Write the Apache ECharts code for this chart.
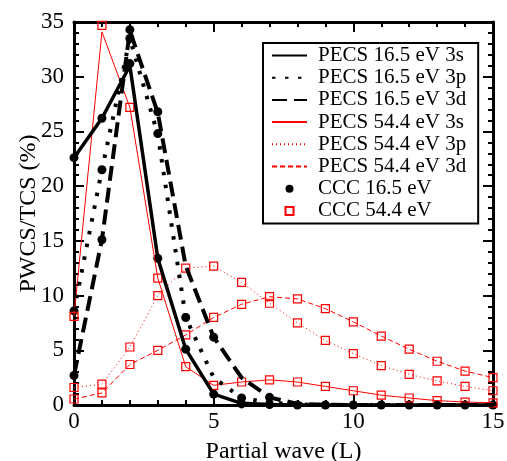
<!DOCTYPE html>
<html>
<head>
<meta charset="utf-8">
<script src="https://cdn.jsdelivr.net/npm/echarts@6/dist/echarts.min.js"></script>
<style>
  html, body { margin: 0; padding: 0; background: #fff; }
  #main { width: 507px; height: 461px; }
</style>
</head>
<body>
<div id="main"></div>
<script>
// partial waves L = 0..15
var waves = [0, 1, 2, 3, 4, 5, 6, 7, 8, 9, 10, 11, 12, 13, 14, 15];

// PECS 16.5 eV
var pecs16s = [22.6, 26.2, 31.0, 13.4, 5.1, 1.0, 0.15, 0.05, 0, 0, 0, 0, 0, 0, 0, 0];
var pecs16p = [8.6, 21.5, 33.5, 24.7, 8.0, 2.5, 0.65, 0.2, 0.05, 0, 0, 0, 0, 0, 0, 0];
var pecs16d = [2.7, 15.1, 34.2, 26.7, 12.7, 6.2, 2.5, 0.7, 0.1, 0.02, 0, 0, 0, 0, 0, 0];

// PECS 54.4 eV
var pecs54s = [8.1, 34.1, 27.2, 11.6, 3.5, 1.8, 2.1, 2.3, 2.1, 1.7, 1.3, 0.9, 0.64, 0.4, 0.27, 0.2];
var pecs54p = [1.6, 1.9, 5.3, 10.0, 12.5, 12.7, 11.2, 9.3, 7.5, 5.9, 4.7, 3.6, 2.8, 2.2, 1.7, 1.3];
var pecs54d = [0.55, 1.1, 3.7, 5.0, 6.4, 8.0, 9.2, 9.9, 9.7, 8.8, 7.6, 6.3, 5.1, 4.0, 3.1, 2.5];

// CCC 16.5 eV (null = no point shown)
var ccc16s = [22.6, 26.2, 31.2, 13.4, 5.1, 1.0, 0.1, 0.05, 0, 0, 0, 0, 0, 0, 0, 0];
var ccc16p = [8.6, 21.5, 33.5, 24.8, 8.0, null, 0.65, null, null, null, null, null, null, null, null, null];
var ccc16d = [2.7, 15.1, 34.3, 26.8, null, 6.2, null, 0.7, null, null, null, null, null, null, null, null];

// CCC 54.4 eV
var ccc54s = [8.1, 34.7, 27.2, 11.6, 3.5, 1.8, 2.1, 2.3, 2.1, 1.7, 1.3, 0.9, 0.64, 0.4, 0.27, 0.2];
var ccc54p = [1.6, 1.9, 5.3, 10.0, 12.5, 12.7, 11.2, 9.3, 7.5, 5.9, 4.7, 3.6, 2.8, 2.2, 1.7, 1.3];
var ccc54d = [0.55, 1.1, 3.7, 5.0, 6.4, 8.0, 9.2, 9.9, 9.7, 8.8, 7.6, 6.3, 5.1, 4.0, 3.1, 2.5];

var names = ['PECS 16.5 eV 3s', 'PECS 16.5 eV 3p', 'PECS 16.5 eV 3d',
             'PECS 54.4 eV 3s', 'PECS 54.4 eV 3p', 'PECS 54.4 eV 3d',
             'CCC 16.5 eV', 'CCC 54.4 eV'];

function pairs(arr) {
    return arr.map(function(v, i) { return [waves[i], v]; });
}
function points(lists) {
    var out = [];
    lists.forEach(function(arr) {
        arr.forEach(function(v, i) {
            if (v !== null) out.push([waves[i], v]);
        });
    });
    return out;
}
function lineSeries(name, arr, color, width, type) {
    return {
        name: name,
        type: 'line',
        data: pairs(arr),
        symbol: 'none',
        silent: true,
        lineStyle: { color: color, width: width, type: type },
        itemStyle: { color: color }
    };
}

var font = 'Liberation Serif';

var xBase = {
    type: 'value', min: 0, max: 15, interval: 5,
    axisLine: { onZero: false, lineStyle: { color: '#000', width: 3 } },
    axisTick: { inside: true, length: 10, lineStyle: { color: '#000', width: 2 } },
    minorTick: { show: true, splitNumber: 5, length: 5, lineStyle: { color: '#000', width: 2 } },
    splitLine: { show: false }
};
var yBase = {
    type: 'value', min: 0, max: 35, interval: 5,
    axisLine: { onZero: false, lineStyle: { color: '#000', width: 3 } },
    axisTick: { inside: true, length: 10, lineStyle: { color: '#000', width: 2 } },
    minorTick: { show: true, splitNumber: 5, length: 5, lineStyle: { color: '#000', width: 2 } },
    splitLine: { show: false }
};

// legend entries: lines without symbol, square marker for CCC 54.4
var legendData = names.map(function(n, i) {
    if (i < 6) return { name: n, itemStyle: { opacity: 0 } };
    if (i === 7) return { name: n, icon: 'path://M0,0L10,0L10,10L0,10Z' };
    return { name: n };
});

var option = {
    animation: false,
    backgroundColor: '#fff',
    grid: { left: 74, right: 14, top: 22, bottom: 56, outerBoundsMode: 'none' },
    legend: {
        orient: 'vertical',
        left: 263, top: 43,
        data: legendData,
        itemWidth: 35, itemHeight: 8, itemGap: 1.2,
        padding: [2, 12, 2, 8],
        borderColor: '#000', borderWidth: 2,
        backgroundColor: '#fff',
        textStyle: { fontFamily: font, fontSize: 21, color: '#000', lineHeight: 20, padding: [0, 0, 0, 6] }
    },
    xAxis: [
        Object.assign({}, xBase, {
            position: 'bottom',
            name: 'Partial wave (L)', nameLocation: 'middle', nameGap: 35, nameMoveOverlap: false,
            nameTextStyle: { fontFamily: font, fontSize: 24, color: '#000' },
            axisLabel: { fontFamily: font, fontSize: 23, color: '#000', margin: 5 }
        }),
        Object.assign({}, xBase, { position: 'top', axisLabel: { show: false } })
    ],
    yAxis: [
        Object.assign({}, yBase, {
            position: 'left',
            name: 'PWCS/TCS (%)', nameLocation: 'middle', nameGap: 33, nameMoveOverlap: false,
            nameTextStyle: { fontFamily: font, fontSize: 24, color: '#000' },
            axisLabel: { fontFamily: font, fontSize: 23, color: '#000', margin: 10 }
        }),
        Object.assign({}, yBase, { position: 'right', axisLabel: { show: false } })
    ],
    series: [
        lineSeries(names[3], pecs54s, '#ff0000', 1, 'solid'),
        lineSeries(names[4], pecs54p, '#ff0000', 1, [1, 3]),
        lineSeries(names[5], pecs54d, '#ff0000', 1, [5, 3]),
        lineSeries(names[0], pecs16s, '#000', 3.5, 'solid'),
        lineSeries(names[1], pecs16p, '#000', 4, [3.5, 9.5]),
        lineSeries(names[2], pecs16d, '#000', 4, [15, 7]),
        {
            name: names[6],
            type: 'scatter',
            data: points([ccc16s, ccc16p, ccc16d]),
            symbol: 'circle',
            symbolSize: 9,
            clip: false,
            itemStyle: { color: '#000', opacity: 1 }
        },
        {
            name: names[7],
            type: 'scatter',
            data: points([ccc54s, ccc54p, ccc54d]),
            symbol: 'rect',
            symbolSize: 8,
            clip: false,
            itemStyle: { color: 'rgba(0,0,0,0)', borderColor: '#ff0000', borderWidth: 1.2, opacity: 1 }
        }
    ]
};

var myChart = echarts.init(document.getElementById('main'));
myChart.setOption(option);
</script>
</body>
</html>
